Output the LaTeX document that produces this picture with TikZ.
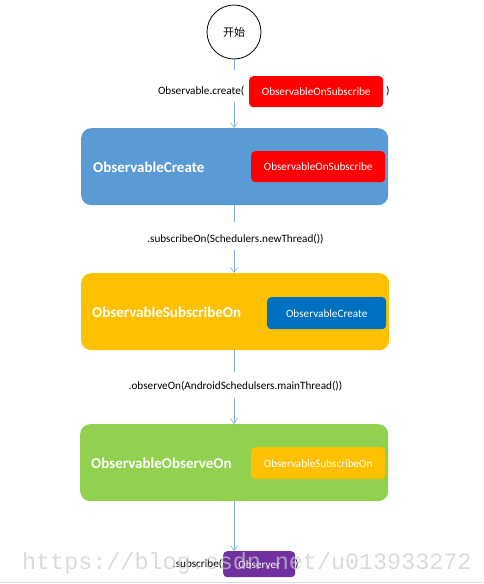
\documentclass[tikz,border=0pt]{standalone}
\usepackage{fontspec}
\setmainfont{Carlito}
\newfontfamily\cjk{Noto Sans CJK SC}
\newfontfamily\wmfont{Liberation Mono}
\usetikzlibrary{arrows.meta}
\definecolor{cBlue}{HTML}{5B9BD5}
\definecolor{cDBlue}{HTML}{0070C0}
\definecolor{cRed}{HTML}{FF0000}
\definecolor{cYellow}{HTML}{FFC000}
\definecolor{cGreen}{HTML}{92D050}
\definecolor{cPurple}{HTML}{7030A0}
\definecolor{cLine}{HTML}{7FAEDC}
\tikzset{
  x=1pt, y=-1pt,
  bigbox/.style={rounded corners=10pt, inner sep=0pt, anchor=north west},
  smallbox/.style={rounded corners=4pt, inner sep=0pt, anchor=north west, font=\fontsize{11.2}{13}\selectfont},
  biglabel/.style={anchor=west, text=white, font=\fontsize{15}{18}\selectfont\bfseries, inner sep=0pt},
  codelabel/.style={font=\fontsize{11.2}{13}\selectfont, inner sep=0pt},
  conn/.style={draw=cLine, line width=0.6pt},
  arr/.style={conn, -{Straight Barb[length=5pt,width=7pt]}},
}
\begin{document}
\begin{tikzpicture}
\useasboundingbox (0,0) rectangle (483,584);
% start circle
\node[circle, draw, line width=0.8pt, minimum size=54pt, inner sep=0pt, font=\cjk\fontsize{11}{13}\selectfont] (start) at (234,32) {开始};
% step 1
\node[smallbox, fill=cRed, text=white, minimum width=134pt, minimum height=31pt] (osub1) at (249,76) {ObservableOnSubscribe};
\node[codelabel, anchor=east] (create) at (244.5,91.5) {Observable.create(};
\node[codelabel, anchor=west] (cp1) at (386,91.5) {)};
% blue box
\node[bigbox, fill=cBlue, minimum width=307pt, minimum height=77pt] (oc) at (81,128) {};
\node[biglabel] (ocl) at (93,167) {ObservableCreate};
\node[smallbox, fill=cRed, text=white, minimum width=134pt, minimum height=31pt] (osub2) at (251,151) {ObservableOnSubscribe};
% step 2
\node[codelabel] (subon) at (235.5,239) {.subscribeOn(Schedulers.newThread())};
% yellow box
\node[bigbox, fill=cYellow, minimum width=308pt, minimum height=77pt] (oso) at (81,273) {};
\node[biglabel] (osol) at (92,312) {ObservableSubscribeOn};
\node[smallbox, fill=cDBlue, text=white, minimum width=119pt, minimum height=32pt] (ocin) at (267,297) {ObservableCreate};
% step 3
\node[codelabel] (obon) at (235.5,386) {.observeOn(AndroidSchedulsers.mainThread())};
% green box
\node[bigbox, fill=cGreen, minimum width=308pt, minimum height=77pt] (ooo) at (80,424) {};
\node[biglabel] (oool) at (91,463) {ObservableObserveOn};
\node[smallbox, fill=cYellow, text=white, minimum width=134pt, minimum height=32pt] (osoin) at (251,447) {ObservableSubscribeOn};
% step 4
\node[smallbox, fill=cPurple, text=white, minimum width=72pt, minimum height=26pt] (obs) at (223,551) {Observer};
\node[codelabel, anchor=east] (subs) at (222.5,564) {.subscribe(};
\node[codelabel, anchor=west] (cp4) at (295,564) {)};
% connector coordinates
\coordinate (g1a) at (234,70);
\coordinate (g1b) at (234,102);
\coordinate (g2a) at (234,222);
\coordinate (g2b) at (234,250);
\coordinate (g3a) at (234,372);
\coordinate (g3b) at (234,398);
\coordinate (g4) at (234,501);
% connectors
\draw[conn] (start.south) -- (g1a);
\draw[arr] (g1b) -- (g1b |- oc.north);
\draw[conn] (g2a |- oc.south) -- (g2a);
\draw[arr] (g2b) -- (g2b |- oso.north);
\draw[conn] (g3a |- oso.south) -- (g3a);
\draw[arr] (g3b) -- (g3b |- ooo.north);
\draw[arr] (g4) -- (g4 |- obs.north);
% watermark
\node[anchor=west, inner sep=0pt, text=gray!40, opacity=0.7, font=\wmfont\fontsize{23.4}{26}\selectfont] (wm) at (22,563) {https://blog.csdn.net/u013933272};
% bottom rule
\draw[draw=black!13, line width=1.5pt] (0,582.5) -- (483,582.5);
\end{tikzpicture}
\end{document}
